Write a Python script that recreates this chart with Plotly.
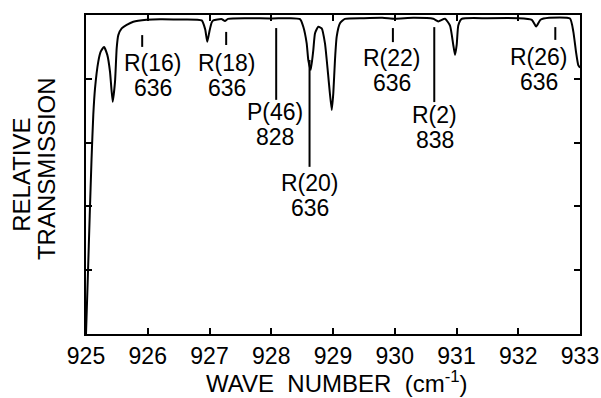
import plotly.graph_objects as go

# Spectrum: wave number (cm^-1) and relative transmission
wave_number = [
    925.00, 925.03, 925.06, 925.09, 925.118, 925.146, 925.199, 925.238, 925.292,
    925.345, 925.389, 925.432, 925.470, 925.497, 925.523, 925.578, 925.659,
    925.766, 925.981, 926.20, 926.50, 926.874, 926.93, 926.964, 927.00, 927.036,
    927.062, 927.20, 927.25, 927.30, 927.60, 928.00, 928.30, 928.466, 928.519,
    928.574, 928.600, 928.639, 928.681, 928.709, 928.762, 928.817, 928.870,
    928.924, 928.979, 929.005, 929.032, 929.060, 929.113, 929.194, 929.50,
    929.80, 930.00, 930.30, 930.624, 930.705, 930.814, 930.895, 930.948,
    930.976, 931.003, 931.029, 931.084, 931.50, 932.00, 932.22, 932.29, 932.36,
    932.50, 932.838, 932.892, 932.935, 932.972, 933.00,
]
transmission = [
    0.00, 0.18, 0.37, 0.55, 0.687, 0.770, 0.854, 0.885, 0.900,
    0.875, 0.822, 0.728, 0.791, 0.896, 0.937, 0.958, 0.969,
    0.979, 0.985, 0.987, 0.986, 0.983, 0.955, 0.916, 0.950, 0.977,
    0.983, 0.987, 0.981, 0.988, 0.990, 0.989, 0.990, 0.987, 0.963,
    0.911, 0.859, 0.828, 0.890, 0.943, 0.963, 0.958, 0.911,
    0.807, 0.702, 0.755, 0.859, 0.932, 0.974, 0.988, 0.990,
    0.991, 0.988, 0.991, 0.988, 0.980, 0.988, 0.967, 0.906,
    0.875, 0.906, 0.967, 0.988, 0.990, 0.990, 0.985, 0.964, 0.985,
    0.991, 0.989, 0.948, 0.885, 0.843, 0.835,
]

# Line identifications
line_names = ["R(16)", "R(18)", "P(46)", "R(20)", "R(22)", "R(2)", "R(26)"]
line_isotopes = ["636", "636", "828", "636", "636", "838", "636"]
marker_wn = [925.91, 927.27, 928.08, 928.62, 929.97, 930.64, 932.60]
marker_top = [0.937, 0.947, 0.959, 0.859, 0.959, 0.962, 0.962]
marker_bottom = [0.900, 0.906, 0.734, 0.524, 0.915, 0.727, 0.922]
label_wn = [926.085, 927.28, 928.06, 928.63, 929.96, 930.65, 932.34]
label_t = [0.850, 0.850, 0.696, 0.473, 0.865, 0.687, 0.868]

x_ticks = [925, 926, 927, 928, 929, 930, 931, 932, 933]
y_ticks = [0.2, 0.4, 0.6, 0.8]

FONT = "Liberation Sans, Arial, sans-serif"
NB = "\u00a0"

fig = go.Figure()
fig.add_trace(go.Scatter(
    x=wave_number, y=transmission, mode="lines",
    line=dict(color="black", width=2, shape="spline", smoothing=0.5),
    hoverinfo="skip", showlegend=False,
))

for wn, y0, y1 in zip(marker_wn, marker_bottom, marker_top):
    fig.add_shape(type="line", xref="x", yref="y", x0=wn, x1=wn, y0=y0, y1=y1,
                  line=dict(color="black", width=2))

for name, iso, wn, t in zip(line_names, line_isotopes, label_wn, label_t):
    fig.add_annotation(x=wn, y=t, xref="x", yref="y", text=name, showarrow=False,
                       xanchor="center", yanchor="middle",
                       font=dict(family=FONT, size=23, color="black"))
    fig.add_annotation(x=wn, y=t, xref="x", yref="y", text=iso, showarrow=False,
                       xanchor="center", yanchor="middle", yshift=-25,
                       font=dict(family=FONT, size=23, color="black"))

# y-axis title (two lines, rotated)
fig.add_annotation(x=-0.131, y=0.50, xref="paper", yref="paper", text="RELATIVE",
                   showarrow=False, textangle=-90, xanchor="center", yanchor="middle",
                   font=dict(family=FONT, size=24, color="black"))
fig.add_annotation(x=-0.081, y=0.52, xref="paper", yref="paper", text="TRANSMISSION",
                   showarrow=False, textangle=-90, xanchor="center", yanchor="middle",
                   font=dict(family=FONT, size=24, color="black"))

# x-axis title
fig.add_annotation(x=0.508, y=0, xref="paper", yref="paper",
                   text="WAVE" + NB * 2 + "NUMBER" + NB * 2 + "(cm<sup>-1</sup>)",
                   showarrow=False, xanchor="center", yanchor="middle", yshift=-48,
                   font=dict(family=FONT, size=24, color="black"))

fig.update_layout(
    width=601, height=398,
    margin=dict(l=86, r=21, t=15, b=64),
    paper_bgcolor="white", plot_bgcolor="white",
    font=dict(family=FONT, color="black"),
    xaxis=dict(
        range=[925, 933], tickvals=x_ticks, ticktext=[str(v) for v in x_ticks],
        ticks="inside", ticklen=6, tickwidth=2, tickcolor="black",
        showline=True, linewidth=2, linecolor="black", mirror="ticks",
        showgrid=False, zeroline=False, automargin=False,
        tickfont=dict(family=FONT, size=23, color="black"),
    ),
    yaxis=dict(
        range=[0, 1], tickvals=y_ticks, showticklabels=False,
        ticks="inside", ticklen=6, tickwidth=2, tickcolor="black",
        showline=True, linewidth=2, linecolor="black", mirror="ticks",
        showgrid=False, zeroline=False, automargin=False,
    ),
)

fig.write_html("out.html")
